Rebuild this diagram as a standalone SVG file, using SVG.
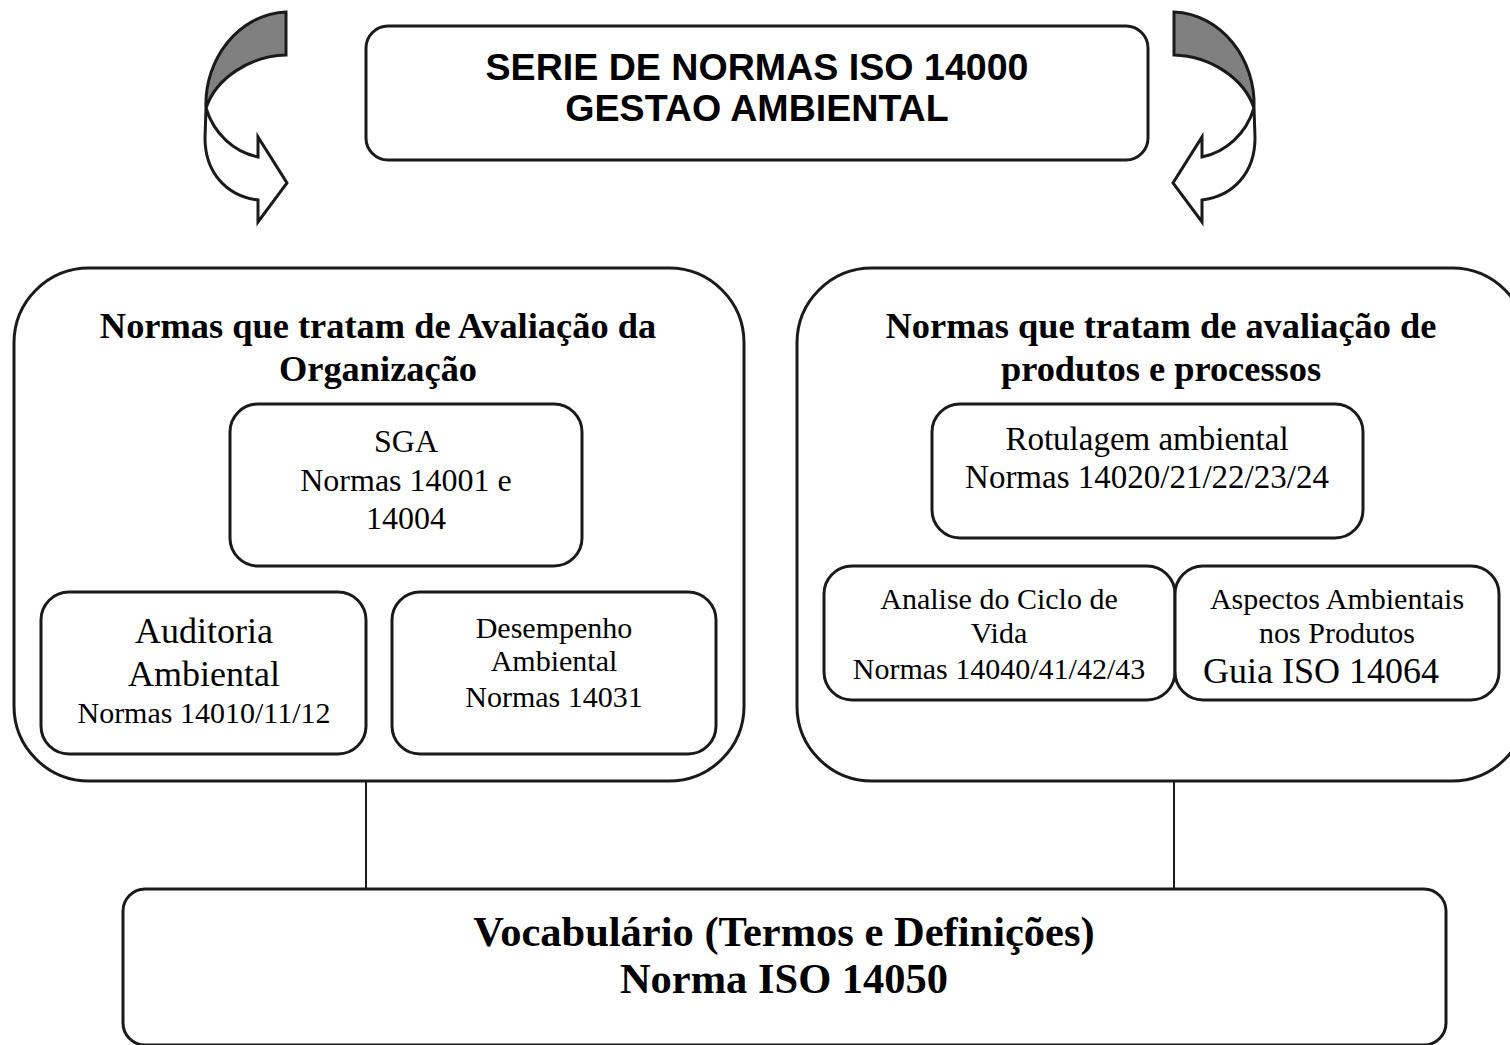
<svg xmlns="http://www.w3.org/2000/svg" width="1510" height="1045" viewBox="0 0 1510 1045">
<style>
.box{fill:#fff;stroke:#1a1a1a;stroke-width:3}
.s{font-family:"Liberation Serif","Times New Roman",serif;fill:#000;text-anchor:middle}
.b{font-weight:bold}
.h{font-family:"Liberation Sans",Arial,sans-serif;font-weight:bold;fill:#000;text-anchor:middle;font-size:37.6px}
.arr{stroke:#1a1a1a;stroke-width:3;stroke-linejoin:miter}
</style>
<rect width="1510" height="1045" fill="#fff"/>
<g id="connectors">
<line x1="366" y1="781" x2="366" y2="890" stroke="#1a1a1a" stroke-width="2"/>
<line x1="1174" y1="781" x2="1174" y2="890" stroke="#1a1a1a" stroke-width="2"/>
</g>
<g id="arrow-left">
<path class="arr" fill="#fff" d="M206,108 C214,134 234,152 258,157 L258,137 L287,183 L258,222 L258,200 C226,196 205,172 205,138 Z"/>
<path class="arr" fill="#808080" d="M286,12 L286,55 C250,56 216,78 206,108 C204,60 238,14 286,12 Z"/>
</g>
<g id="arrow-right" transform="translate(1460,0) scale(-1,1)">
<path class="arr" fill="#fff" d="M206,108 C214,134 234,152 258,157 L258,137 L287,183 L258,222 L258,200 C226,196 205,172 205,138 Z"/>
<path class="arr" fill="#808080" d="M286,12 L286,55 C250,56 216,78 206,108 C204,60 238,14 286,12 Z"/>
</g>
<g id="title">
<rect class="box" x="366" y="26" width="782" height="134" rx="22"/>
<text class="h" x="757" y="80">SERIE DE NORMAS ISO 14000</text>
<text class="h" x="757" y="121">GESTAO AMBIENTAL</text>
</g>
<g id="org">
<rect class="box" x="14" y="268" width="730" height="513" rx="75"/>
<text class="s b" x="378" y="338" font-size="36.4">Normas que tratam de Avaliação da</text>
<text class="s b" x="378" y="381" font-size="36.4">Organização</text>
</g>
<g id="sga">
<rect class="box" x="230" y="404" width="352" height="162" rx="28"/>
<text class="s" x="406" y="452" font-size="32">SGA</text>
<text class="s" x="406" y="491" font-size="32">Normas 14001 e</text>
<text class="s" x="406" y="529" font-size="32">14004</text>
</g>
<g id="auditoria">
<rect class="box" x="41" y="592" width="325" height="162" rx="28"/>
<text class="s" x="204" y="643" font-size="36">Auditoria</text>
<text class="s" x="204" y="686" font-size="36">Ambiental</text>
<text class="s" x="204" y="723" font-size="30">Normas 14010/11/12</text>
</g>
<g id="desempenho">
<rect class="box" x="392" y="592" width="324" height="162" rx="28"/>
<text class="s" x="554" y="638" font-size="30">Desempenho</text>
<text class="s" x="554" y="671" font-size="30">Ambiental</text>
<text class="s" x="554" y="707" font-size="30">Normas 14031</text>
</g>
<g id="prod">
<rect class="box" x="797" y="268" width="730" height="513" rx="75"/>
<text class="s b" x="1161" y="338" font-size="36.4">Normas que tratam de avaliação de</text>
<text class="s b" x="1161" y="381" font-size="36.4">produtos e processos</text>
</g>
<g id="rotulagem">
<rect class="box" x="932" y="404" width="431" height="134" rx="28"/>
<text class="s" x="1147" y="450" font-size="33">Rotulagem ambiental</text>
<text class="s" x="1147" y="488" font-size="33">Normas 14020/21/22/23/24</text>
</g>
<g id="analise">
<rect class="box" x="824" y="566" width="351" height="134" rx="28"/>
<text class="s" x="999" y="609" font-size="30">Analise do Ciclo de</text>
<text class="s" x="999" y="643" font-size="30">Vida</text>
<text class="s" x="999" y="679" font-size="30">Normas 14040/41/42/43</text>
</g>
<g id="aspectos">
<rect class="box" x="1175" y="566" width="324" height="134" rx="28"/>
<text class="s" x="1337" y="609" font-size="30">Aspectos Ambientais</text>
<text class="s" x="1337" y="643" font-size="30">nos Produtos</text>
<text class="s" x="1321" y="683" font-size="36">Guia ISO 14064</text>
</g>
<g id="vocabulario">
<rect class="box" x="123" y="889" width="1323" height="156" rx="22"/>
<text class="s b" x="784" y="946" font-size="42.5">Vocabulário (Termos e Definições)</text>
<text class="s b" x="784" y="993" font-size="42.5">Norma ISO 14050</text>
</g>
</svg>
